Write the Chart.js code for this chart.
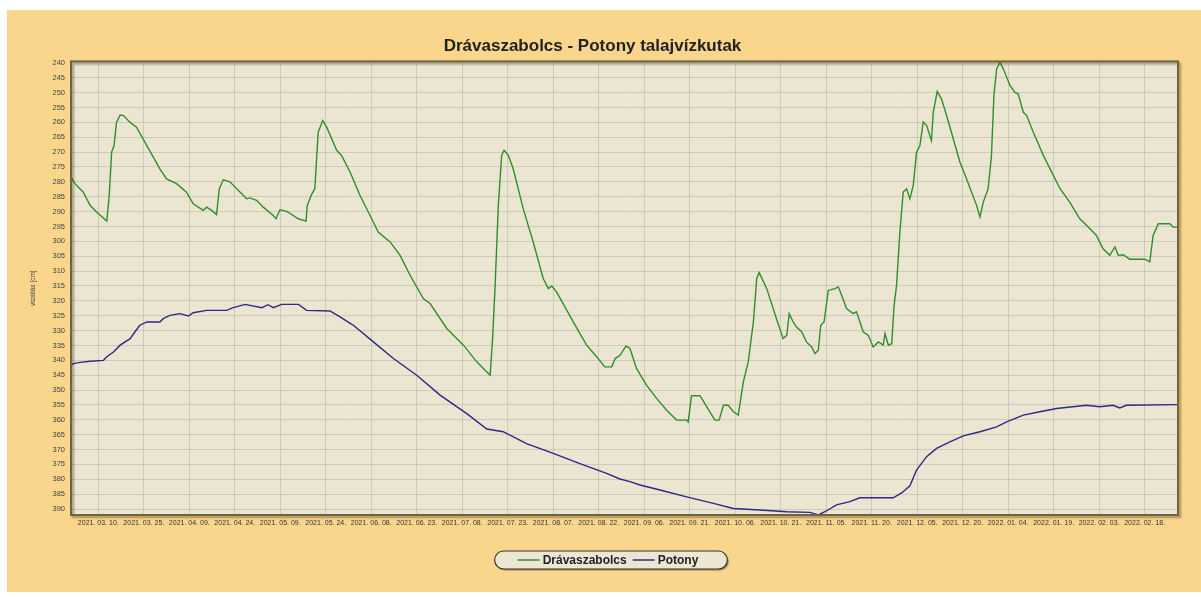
<!DOCTYPE html>
<html>
<head>
<meta charset="utf-8">
<script src="https://cdn.jsdelivr.net/npm/chart.js@4"></script>
<style>
html, body { margin: 0; padding: 0; background: #fff; }
#wrap { position: absolute; left: 7px; top: 10px; width: 1194px; height: 582px; background: #f9d68c; }
</style>
</head>
<body>
<div id="wrap"><canvas id="chart"></canvas></div>
<script>
// napok 2021.03.01-tol szamolva
const startDate = new Date(2021, 2, 1);
const tickDays = [9, 24, 39, 54, 69, 84, 99, 114, 129, 144, 159, 174, 189, 204, 219, 234, 249, 264, 279, 294, 309, 324, 339, 354];
const levelTicks = [240, 245, 250, 255, 260, 265, 270, 275, 280, 285, 290, 295, 300, 305, 310, 315, 320, 325, 330, 335, 340, 345, 350, 355, 360, 365, 370, 375, 380, 385, 390];

const dravaDays = [0, 1.3, 4, 6.3, 8.5, 11.8, 12.6, 13.4, 14.2, 15, 16.2, 17.3, 19.5, 21.6, 25, 29.3, 31.5, 34.8, 38, 40.3, 43.6, 44.7, 46.4, 48, 48.9, 50.2, 52.4, 55.7, 57.9, 59, 61.2, 63.4, 66.7, 67.6, 68.9, 71.1, 73.3, 74.9, 77.5, 77.9, 79.3, 80.4, 81.5, 83, 84.3, 87.6, 89.2, 92, 95.3, 98.6, 101.3, 105.2, 108.5, 111.8, 116.2, 118.4, 123.9, 129.4, 133.8, 137.1, 138.2, 139, 139.8, 140.9, 142, 142.8, 144.2, 145.8, 149.1, 152.4, 155.7, 157.4, 158.5, 160.1, 165.6, 170, 173.3, 176, 178.3, 179.4, 181, 183, 184.3, 186.5, 189.8, 193.1, 196.4, 199.7, 203, 203.5, 204.6, 207.4, 209.6, 212.3, 213.7, 215.1, 216.7, 218.4, 220, 221.7, 223.3, 225, 226.1, 226.9, 229.4, 232.6, 234.8, 236, 236.8, 238.1, 239.2, 240.9, 242.5, 244.2, 245.3, 246.4, 247.2, 248.3, 249.7, 251.9, 253, 254.1, 255.7, 257.9, 259, 261.2, 262.9, 264.5, 266.2, 267.8, 268.4, 269.5, 270.6, 271.4, 272.2, 273.3, 274.4, 275.5, 276.6, 277.7, 278.8, 279.9, 281, 282.1, 283.7, 284.3, 285.6, 287, 288.7, 290.9, 293.1, 295.3, 296.9, 298.6, 299.7, 300.8, 302.4, 303.5, 304.3, 305.2, 306.3, 307.4, 309.6, 311.2, 312.3, 314, 315.1, 317.3, 320.6, 323.9, 326.1, 329.3, 332.6, 335.9, 338.1, 340.3, 342.5, 344.2, 345.3, 346.9, 349.1, 354.1, 355.7, 356.8, 358.5, 362.3, 363.4, 365];
const dravaLevel = [278.4, 280.6, 283.4, 287.9, 290.2, 293.2, 284.6, 270, 267.8, 260, 257.5, 257.7, 260, 261.6, 267.8, 275.6, 279, 280.6, 283.4, 287.4, 289.6, 288.5, 289.6, 291, 282.3, 279.3, 280, 283.4, 285.7, 285.4, 286.2, 288.5, 291.3, 292.4, 289.4, 289.9, 291.3, 292.4, 293.2, 287.9, 284.3, 282.3, 263.3, 259.4, 261.6, 269.4, 271.1, 276.7, 284.6, 291.3, 296.9, 300.2, 304.7, 311.4, 319.3, 320.9, 329.3, 334.9, 340.5, 343.9, 345, 332.7, 315.9, 287.9, 271.1, 269.4, 271.1, 275.6, 289, 300.2, 312.5, 315.9, 315, 317, 327.1, 334.9, 338.8, 342.2, 342.2, 339.4, 338.3, 335.2, 336, 342.8, 348.4, 352.8, 356.8, 360.1, 360.1, 360.7, 351.9, 351.9, 355.6, 360.1, 360.1, 355.1, 355.1, 357.3, 358.4, 347.2, 340.5, 327.1, 312.5, 310.5, 315.9, 326, 332.7, 331.6, 324.3, 327.1, 328.8, 330.4, 333.8, 335.5, 337.7, 336.6, 328.2, 327.1, 316.5, 315.9, 315.3, 318.1, 322.6, 324.3, 323.7, 330.4, 331.6, 335.5, 333.8, 334.9, 331, 334.9, 334.4, 321.5, 314.8, 296.9, 283.4, 282.3, 285.7, 281.2, 270, 267.8, 259.9, 261, 266.1, 256.6, 249.6, 252.1, 257.7, 265.5, 273.4, 279, 283.4, 287.9, 291.8, 286.8, 282.3, 271.1, 251, 242, 239.8, 242, 247.6, 249.9, 250.4, 256.6, 257.7, 263.3, 271.1, 277.8, 282.3, 286.8, 292.4, 295.7, 298, 302.5, 304.7, 301.9, 304.7, 304.5, 306, 306, 306.9, 298, 294.1, 294.1, 295.2, 295.2];

const potonyDays = [0, 0.8, 3, 6.3, 10.7, 11.8, 14, 16.2, 19.5, 21.1, 22.7, 25, 29.3, 30.4, 32.6, 35.9, 38.7, 40.3, 44.7, 51.3, 53.5, 57.4, 62.9, 65, 66.7, 69.5, 75, 77.7, 85.4, 88.7, 91.8, 93.1, 99.7, 106.3, 114, 121.7, 130.5, 137.1, 142.5, 150.2, 159, 167.8, 176.6, 181, 184.3, 187.6, 194.2, 203, 211.8, 218.4, 227.2, 236, 243.6, 246.4, 248.6, 252.4, 256.8, 260.1, 271.1, 274, 276.6, 278.8, 282.1, 285.4, 289.8, 294.2, 299.7, 305.2, 308.5, 314, 319.4, 325, 334.8, 339.2, 343.6, 345.8, 348, 365];
const potonyLevel = [341.6, 341.1, 340.7, 340.3, 340, 338.8, 337.2, 334.9, 332.7, 330.4, 328.2, 327.1, 327.1, 326, 324.9, 324.3, 325.1, 324, 323.2, 323.2, 322.3, 321.2, 322.3, 321.3, 322.3, 321.2, 321.2, 323.2, 323.4, 325.4, 327.4, 328.2, 333.8, 339.4, 345, 351.7, 357.9, 363.1, 364, 368, 371.3, 374.7, 378, 379.9, 380.8, 381.9, 383.6, 385.9, 388.1, 389.8, 390.3, 390.9, 391.1, 392, 390.9, 388.6, 387.5, 386.2, 386.2, 384.5, 382.2, 376.9, 372.4, 369.6, 367.4, 365.4, 364, 362.4, 360.7, 358.4, 357.3, 356.2, 355.1, 355.6, 355.1, 356, 355.1, 354.9];

function dayLabel(d) {
    const dt = new Date(startDate.getFullYear(), startDate.getMonth(), startDate.getDate() + d);
    const mm = String(dt.getMonth() + 1).padStart(2, '0');
    const dd = String(dt.getDate()).padStart(2, '0');
    return `${dt.getFullYear()}. ${mm}. ${dd}.`;
}

// hatter + keret + sajat jelmagyarazat
const plotFrame = {
    id: 'plotFrame',
    beforeDraw(chart) {
        const { ctx, chartArea: a } = chart;
        ctx.save();
        ctx.fillStyle = '#ebe5d1';
        ctx.fillRect(a.left, a.top, a.width, a.height);
        ctx.restore();
    },
    afterDraw(chart) {
        const { ctx, chartArea: a } = chart;
        ctx.save();
        ctx.shadowColor = 'rgba(60,50,20,.45)';
        ctx.shadowOffsetX = 2;
        ctx.shadowOffsetY = 2;
        ctx.shadowBlur = 2;
        ctx.strokeStyle = '#6f6342';
        ctx.lineWidth = 2;
        ctx.strokeRect(a.left, a.top, a.width, a.height);
        ctx.restore();

        // legend
        ctx.save();
        ctx.font = 'bold 12px "Liberation Sans", Arial, sans-serif';
        const sets = chart.data.datasets;
        const sample = 22, gap = 3, between = 6;
        const widths = sets.map(s => ctx.measureText(s.label).width);
        let content = 0;
        widths.forEach((w, i) => { content += sample + gap + w + (i < widths.length - 1 ? between : 0); });
        const padL = 23, padR = 29, h = 18;
        const boxW = content + padL + padR;
        const cx = 604, cy = 550;
        const bx = cx - boxW / 2, by = cy - h / 2;
        ctx.shadowColor = 'rgba(60,50,20,.5)';
        ctx.shadowOffsetX = 1.5;
        ctx.shadowOffsetY = 1.5;
        ctx.shadowBlur = 1;
        ctx.beginPath();
        ctx.roundRect(bx, by, boxW, h, 9);
        ctx.fillStyle = '#ece6d2';
        ctx.fill();
        ctx.shadowColor = 'transparent';
        ctx.strokeStyle = '#333';
        ctx.lineWidth = 1.2;
        ctx.stroke();
        let x = bx + padL;
        ctx.textBaseline = 'middle';
        sets.forEach((s, i) => {
            ctx.strokeStyle = s.borderColor;
            ctx.lineWidth = 1.5;
            ctx.beginPath();
            ctx.moveTo(x, cy);
            ctx.lineTo(x + sample, cy);
            ctx.stroke();
            x += sample + gap;
            ctx.fillStyle = '#222';
            ctx.fillText(s.label, x, cy + 0.5);
            x += widths[i] + between;
        });
        ctx.restore();
    }
};

const ctxLevel = document.getElementById('chart').getContext('2d');
const levelChart = new Chart(ctxLevel, {
    type: 'line',
    data: {
        datasets: [
            {
                label: 'Drávaszabolcs',
                data: dravaDays.map((d, i) => ({ x: d, y: dravaLevel[i] })),
                borderColor: '#2f8f2c',
                borderWidth: 1.4,
                pointRadius: 0,
                tension: 0
            },
            {
                label: 'Potony',
                data: potonyDays.map((d, i) => ({ x: d, y: potonyLevel[i] })),
                borderColor: '#2b2a86',
                borderWidth: 1.4,
                pointRadius: 0,
                tension: 0
            }
        ]
    },
    options: {
        responsive: true,
        maintainAspectRatio: false,
        animation: false,
        layout: { padding: { left: 0, right: 23, top: 26, bottom: 57 } },
        plugins: {
            legend: { display: false },
            tooltip: { enabled: false },
            title: {
                display: true,
                text: 'Drávaszabolcs - Potony talajvízkutak',
                color: '#222',
                font: { family: '"Liberation Sans", Arial, sans-serif', size: 17, weight: 'bold', lineHeight: 1.2 },
                padding: { top: 0, bottom: 5 }
            }
        },
        scales: {
            x: {
                type: 'linear',
                min: 0,
                max: 365,
                afterBuildTicks: s => { s.ticks = tickDays.map(v => ({ value: v })); },
                afterFit: s => { s.height = 20; },
                grid: { color: 'rgba(150,150,135,.32)', drawTicks: false },
                border: { display: false },
                ticks: {
                    autoSkip: false,
                    maxRotation: 0,
                    padding: 4,
                    color: '#333',
                    font: { family: '"Liberation Sans", Arial, sans-serif', size: 7 },
                    callback: v => dayLabel(v)
                }
            },
            y: {
                reverse: true,
                min: 239.5,
                max: 392,
                afterBuildTicks: s => { s.ticks = levelTicks.map(v => ({ value: v })); },
                afterFit: s => { s.width = 64; },
                grid: { color: 'rgba(150,150,135,.32)', drawTicks: false },
                border: { display: false },
                title: {
                    display: true,
                    text: 'vízállás [cm]',
                    color: '#444',
                    font: { family: '"Liberation Sans", Arial, sans-serif', size: 6.5 },
                    padding: { top: 22, bottom: 0 }
                },
                ticks: {
                    padding: 6,
                    color: '#444',
                    font: { family: '"Liberation Sans", Arial, sans-serif', size: 7.5 }
                }
            }
        }
    },
    plugins: [plotFrame]
});
</script>
</body>
</html>
